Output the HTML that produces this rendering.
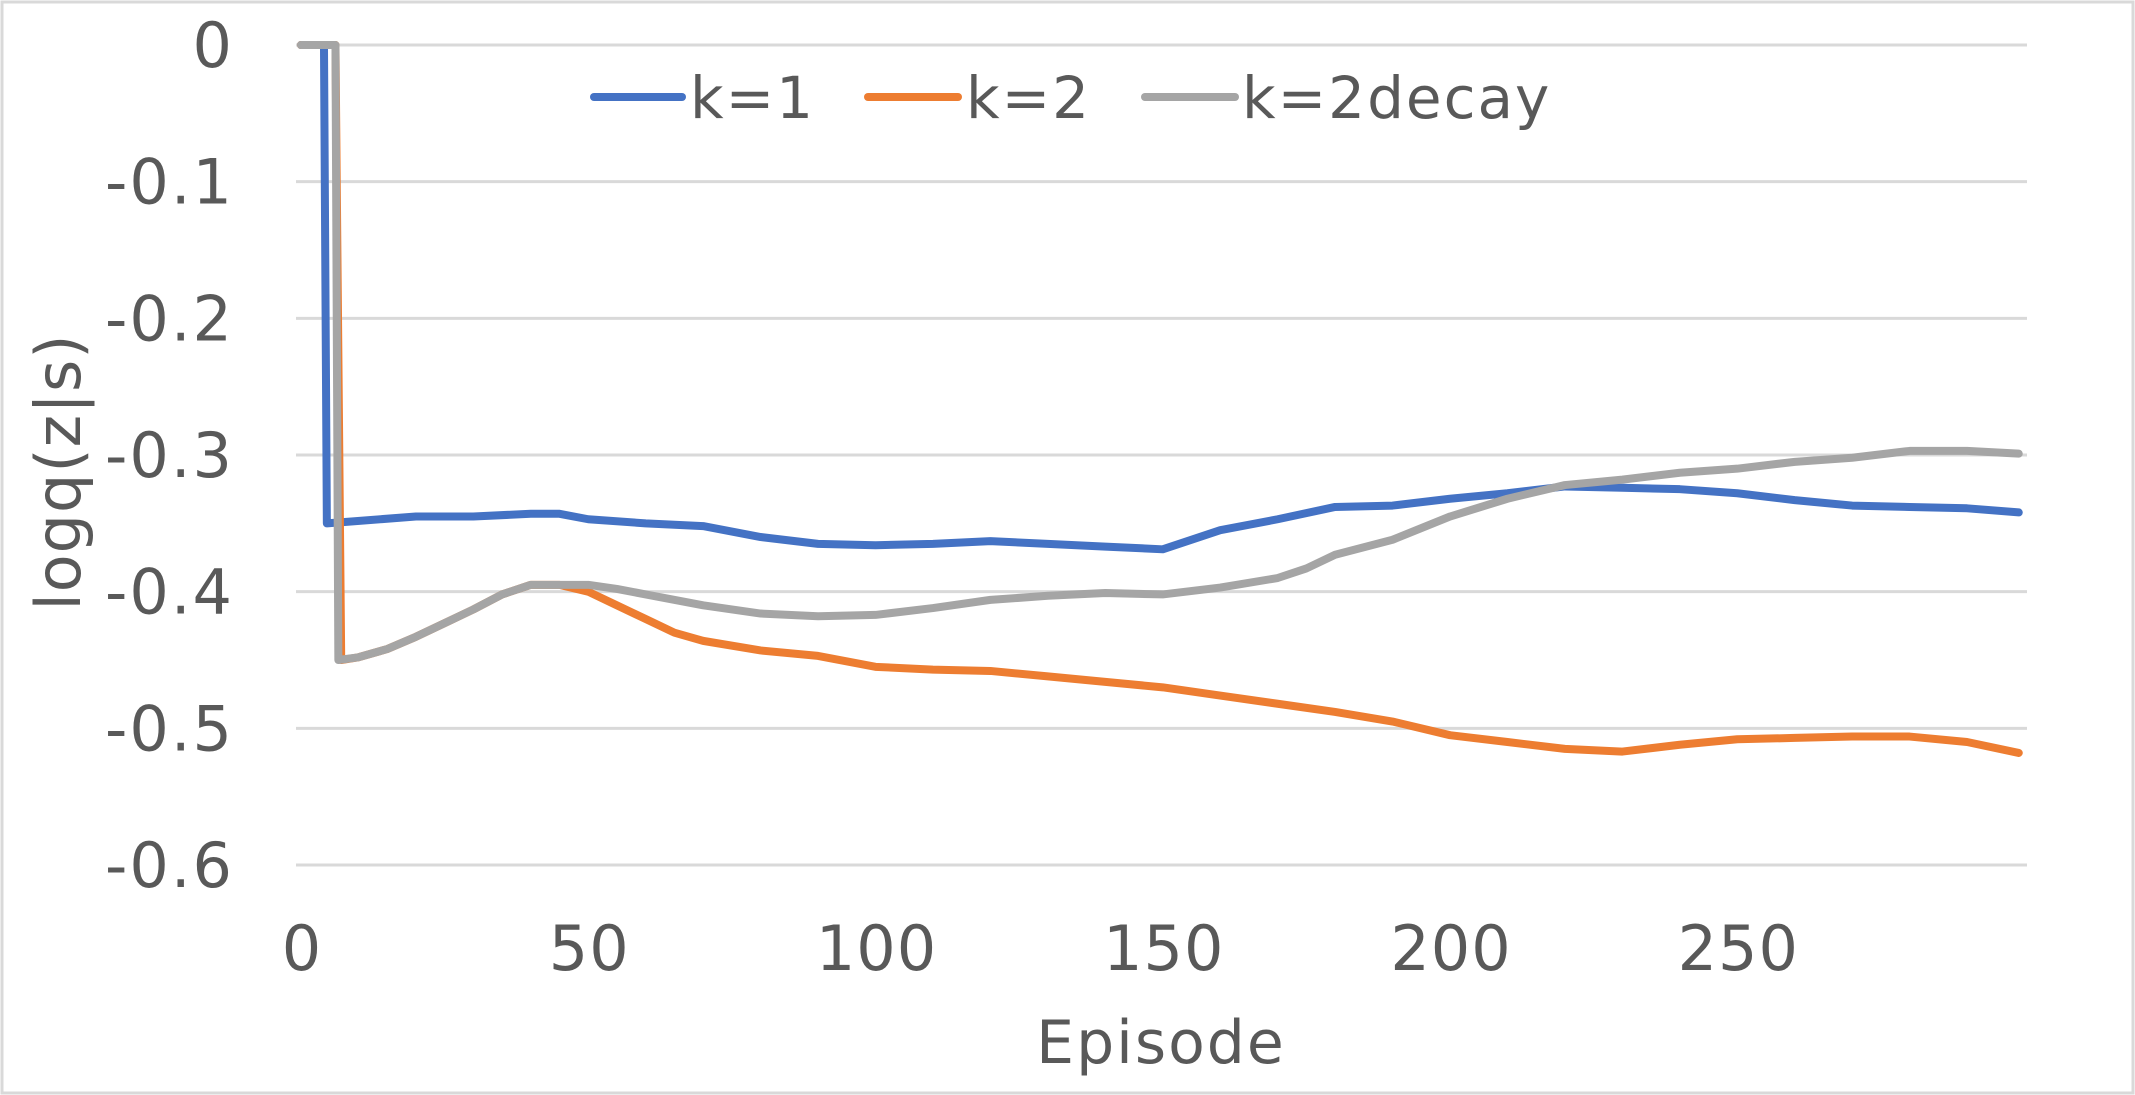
<!DOCTYPE html>
<html><head><meta charset="utf-8"><style>
html,body{margin:0;padding:0;background:#fff;}
svg{display:block;font-family:"DejaVu Sans","Liberation Sans",sans-serif;}
</style></head><body>
<svg id="chart" width="2135" height="1095" viewBox="0 0 2135 1095">
<rect x="2" y="2" width="2131" height="1091" fill="#fff" stroke="#d9d9d9" stroke-width="3"/>
<g id="grid"></g><g id="yticks"></g><g id="xticks"></g><g id="series"></g>
<text x="1161" y="1063" font-size="60" letter-spacing="2" fill="#595959" text-anchor="middle">Episode</text>
<text transform="translate(80,472) rotate(-90)" font-size="62" letter-spacing="1" fill="#595959" text-anchor="middle">logq(z|s)</text>
<g>
<g><line x1="594" y1="97" x2="682" y2="97" stroke="#4472c4" stroke-width="8" stroke-linecap="round"/><text x="690" y="118" font-size="58" letter-spacing="2" fill="#595959">k=1</text></g>
<g><line x1="868" y1="97" x2="958" y2="97" stroke="#ed7d31" stroke-width="8" stroke-linecap="round"/><text x="966" y="118" font-size="58" letter-spacing="2" fill="#595959">k=2</text></g>
<g><line x1="1145" y1="97" x2="1235" y2="97" stroke="#a5a5a5" stroke-width="8" stroke-linecap="round"/><text x="1242" y="118" font-size="58" letter-spacing="2" fill="#595959">k=2decay</text></g>
</g>
</svg>
<script>
const yTicks=[0,-0.1,-0.2,-0.3,-0.4,-0.5,-0.6];
const yTickLabels=["0","-0.1","-0.2","-0.3","-0.4","-0.5","-0.6"];
const xTicks=[0,50,100,150,200,250];
const k1X=[0,4,4.5,20,30,40,45,50,60,70,80,90,100,110,120,130,140,150,160,170,180,190,200,210,220,230,240,250,260,270,280,290,299];
const k1Y=[0,0,-0.35,-0.345,-0.345,-0.343,-0.343,-0.347,-0.35,-0.352,-0.36,-0.365,-0.366,-0.365,-0.363,-0.365,-0.367,-0.369,-0.355,-0.347,-0.338,-0.337,-0.332,-0.328,-0.323,-0.324,-0.325,-0.328,-0.333,-0.337,-0.338,-0.339,-0.342];
const k2X=[0,6,7,10,15,20,25,30,35,40,45,50,55,60,65,70,80,90,100,110,120,130,140,150,160,170,180,190,200,210,220,230,240,250,260,270,280,290,299];
const k2Y=[0,0,-0.45,-0.448,-0.442,-0.433,-0.423,-0.413,-0.402,-0.395,-0.395,-0.40,-0.41,-0.42,-0.43,-0.436,-0.443,-0.447,-0.455,-0.457,-0.458,-0.462,-0.466,-0.47,-0.476,-0.482,-0.488,-0.495,-0.505,-0.51,-0.515,-0.517,-0.512,-0.508,-0.507,-0.506,-0.506,-0.51,-0.518];
const k2dX=[0,6,6.5,10,15,20,25,30,35,40,45,50,55,60,70,80,90,100,110,120,130,140,150,160,170,175,180,190,200,210,220,230,240,250,260,270,280,290,299];
const k2dY=[0,0,-0.45,-0.448,-0.442,-0.433,-0.423,-0.413,-0.402,-0.395,-0.395,-0.395,-0.398,-0.402,-0.41,-0.416,-0.418,-0.417,-0.412,-0.406,-0.403,-0.401,-0.402,-0.397,-0.39,-0.383,-0.373,-0.362,-0.345,-0.332,-0.322,-0.318,-0.313,-0.31,-0.305,-0.302,-0.297,-0.297,-0.299];
const NS='http://www.w3.org/2000/svg';
const X0=301,XS=5.745,Y0=45,YS=1366.7,XR=2027;
const sx=v=>X0+v*XS, sy=v=>Y0-v*YS;
function mk(t,a,p){const e=document.createElementNS(NS,t);for(const k in a)e.setAttribute(k,a[k]);p.appendChild(e);return e;}
const grid=document.getElementById('grid'),yt=document.getElementById('yticks'),xt=document.getElementById('xticks'),ser=document.getElementById('series');
yTicks.forEach((v,i)=>{
 const l=mk('line',{x1:X0-5,x2:XR,y1:sy(v),y2:sy(v),stroke:'#d9d9d9','stroke-width':3},grid);
 
 
 const t=mk('text',{x:234,y:sy(v)+22,'font-size':62,'letter-spacing':2,fill:'#595959','text-anchor':'end'},yt);
 t.textContent=yTickLabels[i];
 
 
});
xTicks.forEach(v=>{
 const t=mk('text',{x:sx(v)+1,y:970,'font-size':62,'letter-spacing':1,fill:'#595959','text-anchor':'middle'},xt);
 t.textContent=String(v);
 
 
});
function draw(xs,ys,c,name){
 const p=mk('polyline',{points:xs.map((x,i)=>sx(x)+','+sy(ys[i])).join(' '),fill:'none',stroke:c,'stroke-width':8,'stroke-linejoin':'round','stroke-linecap':'round'},ser);
 
 
}
draw(k1X,k1Y,'#4472c4','series-k1');
draw(k2X,k2Y,'#ed7d31','series-k2');
draw(k2dX,k2dY,'#a5a5a5','series-k2decay');
</script>
</body></html>
